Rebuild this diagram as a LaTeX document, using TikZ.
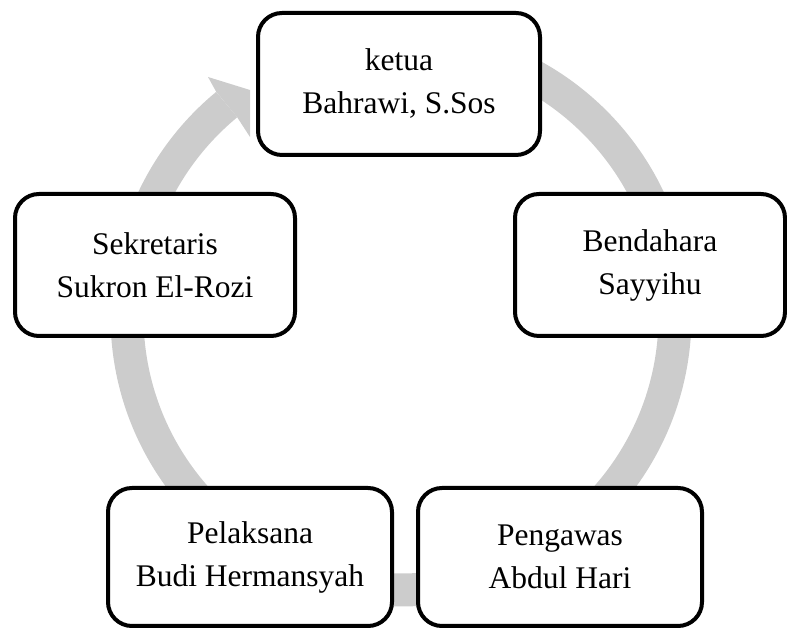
\documentclass[tikz,border=0pt]{standalone}
\usepackage{fontspec}
\setmainfont{Liberation Serif}
\definecolor{ringgray}{RGB}{204,204,204}
\tikzset{
  box/.style={draw=black, line width=4pt, rounded corners=24pt, fill=white,
    align=center, inner sep=0pt, font=\fontsize{31.5}{43}\selectfont},
}
\begin{document}
\begin{tikzpicture}[x=1pt,y=1pt]
\useasboundingbox (0,0) rectangle (787,628);
\coordinate (C) at (401,312);
% ring arrow
\draw[ringgray, line width=33pt] ([shift={(90:274)}]C) arc[start angle=90, end angle=-230.5, radius=274];
\coordinate (h1) at ([shift={(129.5:290.5)}]C);
\coordinate (h2) at (208,551);
\coordinate (h3) at (250,538);
\coordinate (h4) at (250,491);
\coordinate (h5) at ([shift={(129.5:257.5)}]C);
\fill[ringgray] (h1) -- (h2) -- (h3) -- (h4) -- (h5) -- cycle;
% boxes
\node[box, minimum width=282pt, minimum height=142pt] (ketua) at (399,544) {ketua\\Bahrawi, S.Sos};
\node[box, minimum width=280pt, minimum height=142pt] (sek) at (155,363) {Sekretaris\\Sukron El-Rozi};
\node[box, minimum width=270pt, minimum height=142pt] (ben) at (650,363) {Bendahara\\Sayyihu};
\node[box, minimum width=284pt, minimum height=138pt] (pel) at (250,71) {Pelaksana\\Budi Hermansyah};
\node[box, minimum width=284pt, minimum height=138pt] (pen) at (560,71) {Pengawas\\Abdul Hari};
\end{tikzpicture}
\end{document}
